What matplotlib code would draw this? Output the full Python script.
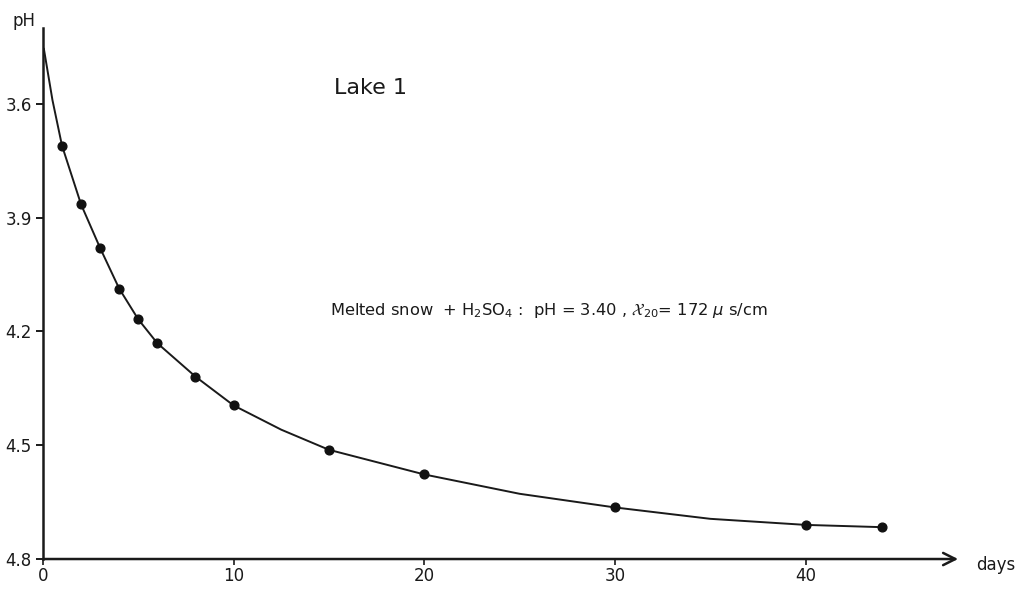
import matplotlib.pyplot as plt
import numpy as np

days = [1, 2, 3, 4, 5, 6, 8, 10, 15, 20, 30, 40, 44]
ph = [3.71, 3.865, 3.98, 4.087, 4.168, 4.231, 4.319, 4.395, 4.512, 4.577, 4.664, 4.710, 4.716]

# extra readings of the hand-drawn curve (between the measured points)
curve_extra_days = [0.05, 0.5, 12.5, 25, 35]
curve_extra_ph = [3.455, 3.59, 4.459, 4.628, 4.694]

xticks = [0, 10, 20, 30, 40]
yticks = [3.6, 3.9, 4.2, 4.5, 4.8]

plt.rcParams['font.family'] = ['DejaVu Sans']

fig = plt.figure(figsize=(10.22, 5.90), dpi=100)
ax = fig.add_axes([0.042, 0.0525, 0.8955, 0.9])

# curve goes through measured points and the extra readings, sorted by day
curve = sorted(zip(curve_extra_days + days, curve_extra_ph + ph))
line_x = [c[0] for c in curve]
line_y = [c[1] for c in curve]
ax.plot(line_x, line_y, color='#1a1a1a', lw=1.4, zorder=2)
ax.plot(days, ph, 'o', color='#111111', ms=6.3, zorder=3)

ax.set_xlim(0, 48)
ax.set_ylim(4.8, 3.4)

for s in ['top', 'right', 'bottom']:
    ax.spines[s].set_visible(False)
ax.spines['left'].set_linewidth(1.8)
ax.spines['left'].set_color('#1a1a1a')

# x axis drawn as an arrow
ax.annotate('', xy=(48, 4.8), xytext=(0, 4.8), xycoords='data',
            arrowprops=dict(arrowstyle='->', color='#1a1a1a', lw=1.8,
                            mutation_scale=22, shrinkA=0, shrinkB=0),
            annotation_clip=False)

ax.set_xticks(xticks)
ax.set_xticklabels([str(t) for t in xticks])
ax.set_yticks(yticks)
ax.set_yticklabels([f'{t:.1f}' for t in yticks])
ax.tick_params(axis='y', direction='out', length=5, width=1.4, pad=3,
               labelsize=12, colors='#1a1a1a')
ax.tick_params(axis='x', direction='out', length=4, width=1.2, pad=2,
               labelsize=12, colors='#1a1a1a')

fig.text(0.012, 0.965, 'pH', fontsize=12, color='#1a1a1a', ha='left', va='center')
fig.text(0.955, 0.042, 'days', fontsize=12, color='#1a1a1a', ha='left', va='center')

ax.text(0.327, 0.851, 'Lake 1', transform=fig.transFigure, fontsize=16,
        color='#1a1a1a', ha='left', va='center')
ax.text(0.323, 0.474,
        r'Melted snow  + H$_2$SO$_4$ :  pH = 3.40 , $\mathcal{X}_{20}$= 172 $\mu$ s/cm',
        transform=fig.transFigure, fontsize=11.7, color='#1a1a1a',
        ha='left', va='center')

fig.savefig('out.png', dpi=100)
